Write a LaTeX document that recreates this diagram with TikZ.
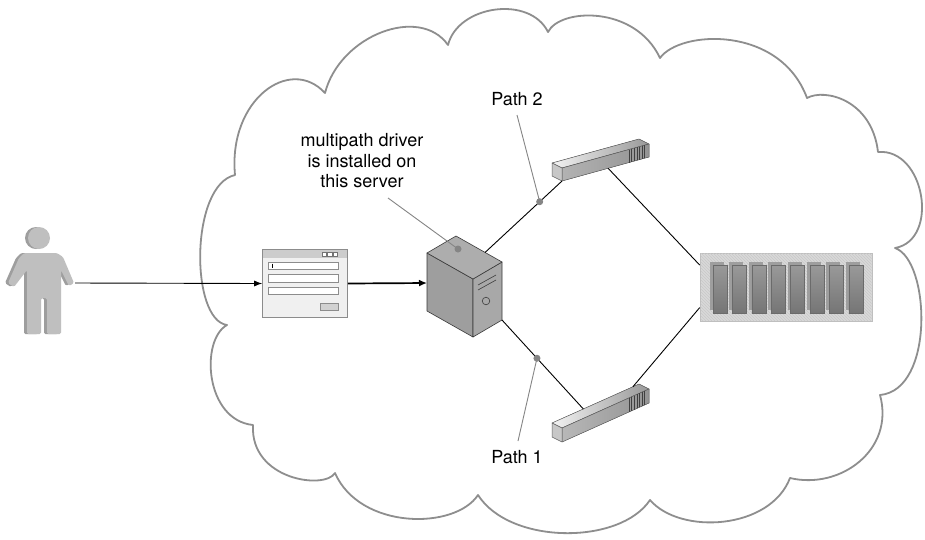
\documentclass[tikz,border=0pt]{standalone}
\usepackage{fontspec}
\setmainfont{TeX Gyre Heros}
\usetikzlibrary{arrows.meta,patterns,calc}
\definecolor{cloudline}{HTML}{8E8E8E}
\definecolor{leadgray}{HTML}{858585}
\definecolor{edgedark}{HTML}{3A3A3A}
\begin{document}
\begin{tikzpicture}[x=1pt,y=-1pt,
  cloud/.style={draw=cloudline,line width=1.8pt,line join=round},
  link/.style={draw=black,line width=0.9pt},
  flow/.style={draw=black,line width=0.9pt,-{Latex[length=8pt,width=6pt]}},
  thickflow/.style={draw=black,line width=1.7pt,-{Latex[length=8pt,width=7pt]}},
  leader/.style={draw=leadgray,line width=0.9pt},
  tapdot/.style={fill=leadgray,circle,inner sep=0pt,minimum size=7pt},
  tagtext/.style={font=\fontsize{18}{20.5}\selectfont,align=center,inner sep=0pt},
  winframe/.style={draw=black!45,fill=black!6,line width=0.6pt,inner sep=0pt},
  winfield/.style={draw=black!45,fill=white,line width=0.6pt},
  faceedge/.style={draw=edgedark,line width=0.6pt,line join=round},
  swedge/.style={draw=black!60,line width=0.5pt,line join=round},
]
\useasboundingbox (0,0) rectangle (925,539);
\fill[white] (0,0) rectangle (925,539);

% ---------- cloud outline ----------
\draw[cloud] (235,175) .. controls (228,100) and (290,55) .. (325,93)
 .. controls (340,35) and (420,5) .. (448,45)
 .. controls (458,5) and (530,-5) .. (548,32)
 .. controls (560,8) and (635,5) .. (660,58)
 .. controls (680,30) and (780,25) .. (807,98)
 .. controls (825,88) and (872,100) .. (878,152)
 .. controls (925,148) and (940,240) .. (895,248)
 .. controls (930,260) and (935,390) .. (880,395)
 .. controls (895,450) and (840,490) .. (790,478)
 .. controls (770,530) and (680,535) .. (650,500)
 .. controls (620,545) and (510,545) .. (478,495)
 .. controls (455,530) and (360,530) .. (335,473)
 .. controls (325,490) and (250,480) .. (253,425)
 .. controls (205,420) and (200,340) .. (227,325)
 .. controls (190,320) and (190,185) .. (235,175) -- cycle;

% ---------- user figure ----------
\begin{scope}[shift={(-3,0)}]
  \fill[black!38] (39,238) circle (11);
  \fill[black!38,rounded corners=1.5pt] (24,253) -- (57,253) -- (63,257) -- (74,283) -- (69,286) -- (61,270)
    -- (61,334) -- (47,334) -- (47,298) -- (41,298) -- (41,334) -- (27,334) -- (27,270)
    -- (14,287) -- (8,283) -- (19,258) -- cycle;
\end{scope}
\fill[black!25] (39,238) circle (11);
\fill[black!25,rounded corners=1.5pt] (24,253) -- (57,253) -- (63,257) -- (74,283) -- (69,286) -- (61,270)
  -- (61,334) -- (47,334) -- (47,298) -- (41,298) -- (41,334) -- (27,334) -- (27,270)
  -- (14,287) -- (8,283) -- (19,258) -- cycle;
\coordinate (user) at (75,283);

% ---------- login window ----------
\node[winframe,minimum width=85pt,minimum height=68pt] (win) at (305,283.5) {};
\fill[black!20] (263,250) rectangle (347,257.5);
\foreach \ix in {322,327.5,333}
  \draw[black!55,fill=white,line width=0.4pt] (\ix,252) rectangle ++(4.2,4);
\draw[winfield] (268,262) rectangle (338,269.5);
\draw[winfield] (268,274.5) rectangle (338,282);
\draw[winfield] (268,287) rectangle (338,294.5);
\draw[black,line width=0.8pt] (272,263.5) -- (272,268);
\draw[black!45,fill=black!18,line width=0.6pt] (320,303) rectangle (338,310);

% ---------- server tower ----------
\coordinate (sL) at (427,253);
\coordinate (sB) at (456,236);
\coordinate (sR) at (502,262);
\coordinate (sF) at (473,279);
\coordinate (sL2) at (427,311);
\coordinate (sF2) at (473,337);
\coordinate (sR2) at (502,320);
\filldraw[faceedge,fill=black!38] (sL) -- (sF) -- (sF2) -- (sL2) -- cycle;
\filldraw[faceedge,fill=black!34] (sF) -- (sR) -- (sR2) -- (sF2) -- cycle;
\filldraw[faceedge,fill=black!32] (sL) -- (sB) -- (sR) -- (sF) -- cycle;
\draw[edgedark,line width=0.6pt] (478,285) -- (496,275) (478,290) -- (496,280);
\draw[edgedark,line width=0.6pt] (486,301) circle (3.8);
\coordinate (srvin) at (427,283);
\coordinate (srvtop) at (485,252.5);
\coordinate (srvbot) at (sR2);
\node[tapdot] (srvdot) at (458,249) {};

% ---------- switch for path 2 ----------
\coordinate (aBTL) at (552,163);
\coordinate (aBTR) at (639,139);
\coordinate (aFTL) at (562,168);
\coordinate (aFTR) at (649,144);
\coordinate (aFBL) at (562,181);
\coordinate (aFBR) at (649,157);
\coordinate (aBBL) at (552,176);
\filldraw[swedge,left color=black!5,right color=black!40] (aBTL) -- (aBTR) -- (aFTR) -- (aFTL) -- cycle;
\filldraw[swedge,left color=black!30,right color=black!42] (aFTL) -- (aFTR) -- (aFBR) -- (aFBL) -- cycle;
\filldraw[swedge,fill=black!22] (aBTL) -- (aFTL) -- (aFBL) -- (aBBL) -- cycle;
\foreach \t in {0.77,0.80,...,0.96}
  \draw[black!75,line width=0.5pt] ($(aFTL)!\t!(aFTR)$) -- ($(aFBL)!\t!(aFBR)$);

% ---------- switch for path 1 ----------
\coordinate (bBTL) at (552,423);
\coordinate (bBTR) at (639,384);
\coordinate (bFTL) at (562,428);
\coordinate (bFTR) at (649,389);
\coordinate (bFBL) at (562,442);
\coordinate (bFBR) at (649,403);
\coordinate (bBBL) at (552,437);
\filldraw[swedge,left color=black!5,right color=black!40] (bBTL) -- (bBTR) -- (bFTR) -- (bFTL) -- cycle;
\filldraw[swedge,left color=black!28,right color=black!42] (bFTL) -- (bFTR) -- (bFBR) -- (bFBL) -- cycle;
\filldraw[swedge,fill=black!22] (bBTL) -- (bFTL) -- (bFBL) -- (bBBL) -- cycle;
\foreach \t in {0.77,0.80,...,0.96}
  \draw[black!75,line width=0.5pt] ($(bFTL)!\t!(bFTR)$) -- ($(bFBL)!\t!(bFBR)$);

% ---------- storage array ----------
\node[draw=black!25,fill=black!15,line width=0.6pt,minimum width=172pt,minimum height=68pt,inner sep=0pt]
  (storage) at (786,287) {};
\fill[pattern=north west lines,pattern color=black!21] (700.5,253.5) rectangle (871.5,320.5);
\foreach \i in {0,...,7}{
  \pgfmathsetmacro{\xo}{713+19.4*\i}
  \fill[black!38] (\xo-3,262) rectangle (\xo+11,310);
  \draw[black!58,line width=0.4pt,top color=black!40,bottom color=black!54] (\xo,265) rectangle (\xo+14,313);
}

% ---------- connectors ----------
\draw[flow] (user) -- (win.west);
\draw[thickflow] (win.east) -- (srvin);
\draw[link] (srvtop) -- coordinate[pos=0.71] (p2) (aFBL);
\draw[link] ($(aFBL)!0.53!(aFBR)$) -- ($(storage.north west)!0.18!(storage.south west)$);
\draw[link] (srvbot) -- coordinate[pos=0.43] (p1) ($(bBTL)!0.36!(bBTR)$);
\draw[link] ($(bBTL)!0.93!(bBTR)$) -- ($(storage.north west)!0.8!(storage.south west)$);

% ---------- labels and leaders ----------
\node[tagtext] (drvnote) at (362,161) {multipath driver\\is installed on\\this server};
\node[tagtext] (path2) at (517,99) {Path 2};
\node[tagtext] (path1) at (517,457) {Path 1};
\node[tapdot] (p2dot) at (p2) {};
\node[tapdot] (p1dot) at (p1) {};
\draw[leader] (388,198) -- (srvdot.center);
\draw[leader] (517,115) -- (p2dot.center);
\draw[leader] (518,441) -- (p1dot.center);
\end{tikzpicture}
\end{document}
